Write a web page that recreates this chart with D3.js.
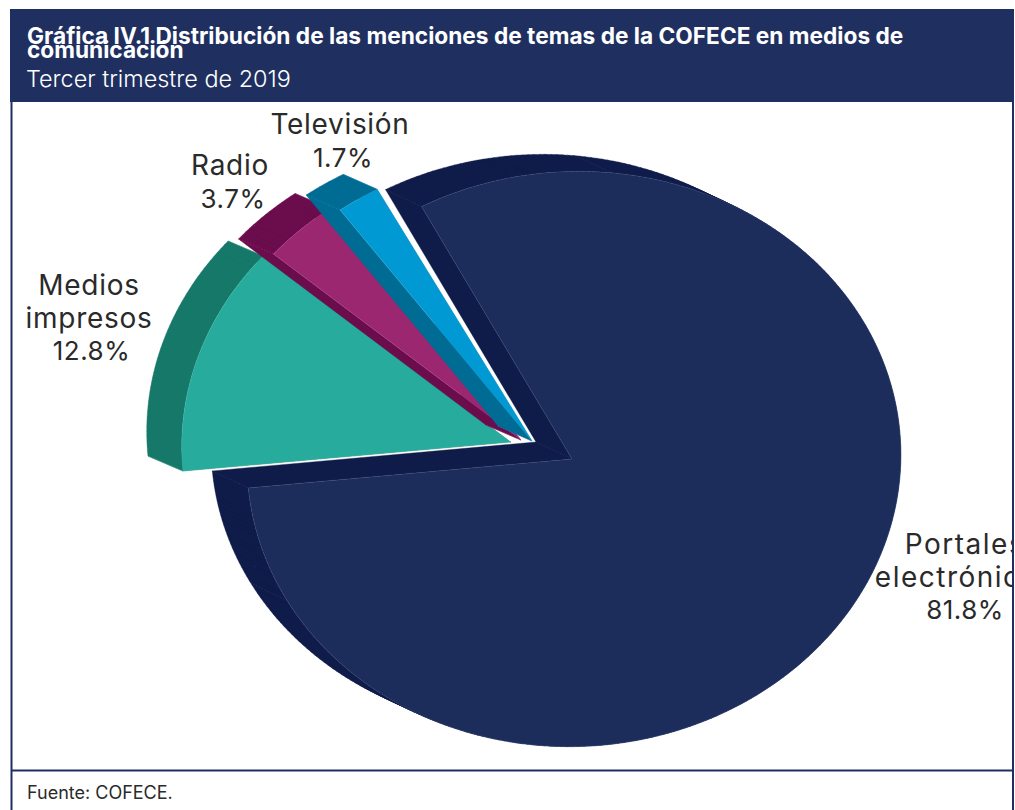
<!DOCTYPE html>
<html lang="es">
<head>
<meta charset="utf-8">
<title>Gráfica IV.1</title>
<script src="https://d3js.org/d3.v7.min.js"></script>
<style>
html,body{margin:0;padding:0;background:#fff;overflow:hidden}
svg{display:block}
text{font-family:Inter,"Noto Sans",sans-serif}
</style>
</head>
<body>
<script>
// ---- data ----
const categories = ["Portales electrónicos", "Medios impresos", "Radio", "Televisión"];
const values = [81.8, 12.8, 3.7, 1.7];
const valueLabels = ["81.8%", "12.8%", "3.7%", "1.7%"];
const labelLines = [["Portales", "electrónicos"], ["Medios", "impresos"], ["Radio"], ["Televisión"]];
const titleLines = ["Gráfica IV.1 Distribución de las menciones de temas de la COFECE en medios de", "comunicación"];
const subtitle = "Tercer trimestre de 2019";
const source = "Fuente: COFECE.";

// ---- layout and style ----
const W = 1015, H = 810;
const faceColors = ["#1d2d5b", "#27ab9c", "#9c2771", "#0099d3"];
const sideColors = ["#0f1c4a", "#167868", "#6b0d4d", "#006b93"];
const edgeColors = ["#4a5a8c", "#55c9bb", "#c254a0", "#3db8e8"];
const navy = "#1f3060";
const centers = [[572, 459], [510.6, 442], [521, 440], [532, 441]];
const rimShift = [[2, 0], [0, 0], [0, 0], [0, 0]];  // the big slice's rim sits slightly off its apex
const radiiX = [327, 329, 329, 329];
const depths = [[-36, -17], [-35, -15], [-35, -15], [-34, -15]];
const startTrim = [1.6, 0, 0, -0.2];       // degrees taken off a slice's leading edge
const endTrim = [0, 0, 0, -1.3];
const seams = [[9.5, 244.3], [], [], []];  // facet lines on the rim, in degrees
const labelPos = [[965, 554], [89, 295], [230, 175], [340, 134]];
const valueX = [965, 91.5, 233, 343];
const labelSpacing = [1.5, 0.7, 0.7, 0.7];
const lineGap = 32.5;
const ry = 287.5, tilt = 3.3 * Math.PI / 180;

const rad = d3.scaleLinear().domain([0, 360]).range([0, 2 * Math.PI]);
const pie = d3.pie().sort(null).startAngle(rad(-26.5)).endAngle(rad(333.5));
const arcs = pie(values);
const line = d3.line();

const project = (a, i) => {
  const X = radiiX[i] * Math.sin(a), Y = -ry * Math.cos(a);
  return [centers[i][0] + rimShift[i][0] + X * Math.cos(tilt) + Y * Math.sin(tilt),
          centers[i][1] + rimShift[i][1] - X * Math.sin(tilt) + Y * Math.cos(tilt)];
};
const outline = i => {
  const a0 = arcs[i].startAngle + rad(startTrim[i]);
  const a1 = arcs[i].endAngle - rad(endTrim[i]);
  const n = Math.max(6, Math.ceil((a1 - a0) / rad(1)));
  const rim = d3.range(n + 1).map(k => project(a0 + (a1 - a0) * k / n, i));
  return [centers[i], ...rim];
};
const shift = (p, d) => [p[0] + d[0], p[1] + d[1]];
const sweepPath = i => {
  const pts = outline(i), d = depths[i];
  return pts.map((p, k) => {
    const q = pts[(k + 1) % pts.length];
    let quad = [p, q, shift(q, d), shift(p, d)];
    if (d3.polygonArea(quad) < 0) quad = quad.reverse();
    return line(quad) + "Z";
  }).join("");
};

const svg = d3.select("body").append("svg").attr("width", W).attr("height", H);
svg.append("defs").append("clipPath").attr("id", "plot")
  .append("rect").attr("x", 12).attr("y", 102).attr("width", 1000).attr("height", 668);

// frame
svg.append("rect").attr("x", 10).attr("y", 9).attr("width", 1004).attr("height", 93).attr("fill", navy);
svg.append("path").attr("d", "M11.5,9V810M1013,9V810").attr("stroke", navy).attr("stroke-width", 2).attr("fill", "none");
svg.append("path").attr("d", "M11,770.5H1013").attr("stroke", navy).attr("stroke-width", 2).attr("fill", "none");

// header
svg.selectAll("text.title").data(titleLines).join("text").attr("class", "title")
  .attr("x", 27).attr("y", (d, i) => 44 + i * 13.5)
  .attr("fill", "#fff").attr("font-size", 22.7).attr("font-weight", 700)
  .text(d => d);
svg.append("text").attr("x", 26).attr("y", 87).attr("fill", "#fff")
  .attr("font-size", 23.4).attr("font-weight", 300).text(subtitle);
svg.append("text").attr("x", 27).attr("y", 799).attr("fill", "#2a2a2a")
  .attr("font-size", 18).text(source);

// slices
const plot = svg.append("g").attr("clip-path", "url(#plot)");
const slice = plot.selectAll("g.slice").data(arcs).join("g").attr("class", "slice");
slice.append("path").attr("d", (d, i) => sweepPath(i))
  .attr("fill", (d, i) => sideColors[i]).attr("stroke", (d, i) => sideColors[i]).attr("stroke-width", 0.4);
slice.each(function (d, i) {
  const g = d3.select(this);
  const pts = outline(i);
  const corners = [pts[0], pts[1], pts[pts.length - 1]].concat(
    seams[i].map(s => project(rad(s), i)));
  g.selectAll("line.seam").data(corners).join("line").attr("class", "seam")
    .attr("x1", p => p[0]).attr("y1", p => p[1])
    .attr("x2", p => p[0] + depths[i][0]).attr("y2", p => p[1] + depths[i][1])
    .attr("stroke", edgeColors[i]).attr("stroke-opacity", 0.45)
    .attr("stroke-width", 0.7).attr("stroke-dasharray", "1.5 1.5");
});
slice.append("path").attr("d", (d, i) => line(outline(i)) + "Z")
  .attr("fill", (d, i) => faceColors[i])
  .attr("stroke", (d, i) => edgeColors[i]).attr("stroke-opacity", 0.5).attr("stroke-width", 0.6)
  .attr("stroke-linejoin", "round");

// labels
const label = plot.selectAll("text.label").data(arcs).join("text").attr("class", "label")
  .attr("text-anchor", "middle").attr("fill", "#2a2a2a");
label.each(function (d, i) {
  const t = d3.select(this);
  labelLines[i].forEach((s, k) => {
    t.append("tspan").attr("x", labelPos[i][0]).attr("y", labelPos[i][1] + k * lineGap)
      .attr("font-size", 28).attr("letter-spacing", labelSpacing[i]).text(s);
  });
  t.append("tspan").attr("x", valueX[i]).attr("y", labelPos[i][1] + labelLines[i].length * lineGap)
    .attr("font-size", 26).attr("letter-spacing", 0.5).text(valueLabels[i]);
});
</script>
</body>
</html>
